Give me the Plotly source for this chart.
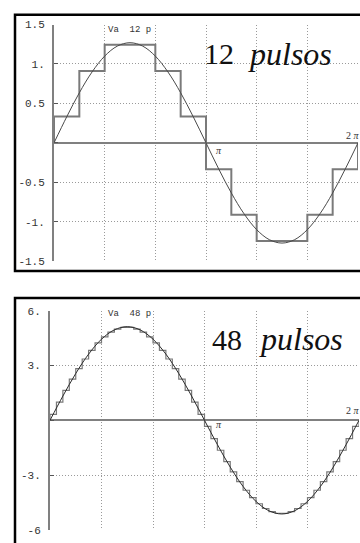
import plotly.graph_objects as go

# ---------------- data ----------------
# angle positions in degrees (0 .. 360 = 0 .. 2*pi)
sine_angles = [0, 15, 30, 45, 60, 75, 90, 105, 120, 135, 150, 165, 180,
               195, 210, 225, 240, 255, 270, 285, 300, 315, 330, 345, 360]

# 12-pulse panel
sine_12 = [0, 0.329, 0.635, 0.898, 1.100, 1.227, 1.270, 1.227, 1.100, 0.898, 0.635, 0.329, 0,
           -0.329, -0.635, -0.898, -1.100, -1.227, -1.270, -1.227, -1.100, -0.898, -0.635, -0.329, 0]
step_edges_12 = [0, 30, 60, 90, 120, 150, 180, 210, 240, 270, 300, 330, 360]
step_levels_12 = [0.333, 0.911, 1.244, 1.244, 0.911, 0.333,
                  -0.333, -0.911, -1.244, -1.244, -0.911, -0.333]
yticks_12 = [-1.5, -1.0, -0.5, 0, 0.5, 1.0, 1.5]
yticktext_12 = ["-1.5", "-1.", "-0.5", "", "0.5", "1.", "1.5"]

# 48-pulse panel
sine_48 = [0, 1.328, 2.565, 3.627, 4.443, 4.955, 5.130, 4.955, 4.443, 3.627, 2.565, 1.328, 0,
           -1.328, -2.565, -3.627, -4.443, -4.955, -5.130, -4.955, -4.443, -3.627, -2.565, -1.328, 0]
step_edges_48 = [0, 7.5, 15, 22.5, 30, 37.5, 45, 52.5, 60, 67.5, 75, 82.5,
                 90, 97.5, 105, 112.5, 120, 127.5, 135, 142.5, 150, 157.5, 165, 172.5,
                 180, 187.5, 195, 202.5, 210, 217.5, 225, 232.5, 240, 247.5, 255, 262.5,
                 270, 277.5, 285, 292.5, 300, 307.5, 315, 322.5, 330, 337.5, 345, 352.5, 360]
step_levels_48 = [0.33, 1.00, 1.64, 2.26, 2.83, 3.36, 3.83, 4.24, 4.57, 4.83, 5.00, 5.09,
                  5.09, 5.00, 4.83, 4.57, 4.24, 3.83, 3.36, 2.83, 2.26, 1.64, 1.00, 0.33,
                  -0.33, -1.00, -1.64, -2.26, -2.83, -3.36, -3.83, -4.24, -4.57, -4.83, -5.00, -5.09,
                  -5.09, -5.00, -4.83, -4.57, -4.24, -3.83, -3.36, -2.83, -2.26, -1.64, -1.00, -0.33]
yticks_48 = [-6, -3, 0, 3, 6]
yticktext_48 = ["-6", "-3.", "", "3.", "6."]

grid_angles = [60, 120, 180, 240, 300]

# ---------------- helpers ----------------
W, H = 360, 543


def fx(p):
    return p / W


def fy(p):
    return 1 - p / H


def stair(edges, levels):
    xs = [edges[0]] + list(edges) + [edges[-1]]
    ys = [0] + list(levels) + [levels[-1], 0]
    return xs, ys


GRID = "#9a9a9a"
AXIS = "#808080"
MONO = "Liberation Mono"
SERIF = "Liberation Serif"

fig = go.Figure()

# top panel
sx, sy = stair(step_edges_12, step_levels_12)
fig.add_trace(go.Scatter(x=sx, y=sy, mode="lines", line=dict(color="#7a7a7a", width=2, shape="hv"),
                         xaxis="x", yaxis="y", hoverinfo="skip"))
fig.add_trace(go.Scatter(x=sine_angles, y=sine_12, mode="lines",
                         line=dict(color="#4a4a4a", width=1, shape="spline"),
                         xaxis="x", yaxis="y", hoverinfo="skip"))

# bottom panel
sx2, sy2 = stair(step_edges_48, step_levels_48)
fig.add_trace(go.Scatter(x=sx2, y=sy2, mode="lines", line=dict(color="#7a7a7a", width=1.2, shape="hv"),
                         xaxis="x2", yaxis="y2", hoverinfo="skip"))
fig.add_trace(go.Scatter(x=sine_angles, y=sine_48, mode="lines",
                         line=dict(color="#2a2a2a", width=1, shape="spline"),
                         xaxis="x2", yaxis="y2", hoverinfo="skip"))


def xax(domain, anchor):
    return dict(domain=domain, range=[0, 360], anchor=anchor, showgrid=True, gridcolor=GRID,
                gridwidth=1, griddash="1px,2px", tickvals=grid_angles, showticklabels=False,
                ticks="", zeroline=False, showline=False, fixedrange=True)


def yax(domain, anchor, rng, tv, tt):
    return dict(domain=domain, range=rng, anchor=anchor, showgrid=True, gridcolor=GRID,
                gridwidth=1, griddash="1px,2px", tickvals=tv, ticktext=tt,
                ticks="inside", ticklen=4, tickwidth=1, tickcolor="#555555",
                tickfont=dict(family=MONO, size=11, color="#333333"),
                ticklabelstandoff=5,
                showline=True, linecolor=AXIS, linewidth=2,
                zeroline=True, zerolinecolor=AXIS, zerolinewidth=2, fixedrange=True)


fig.update_layout(
    width=W, height=H,
    margin=dict(l=0, r=0, t=0, b=0),
    paper_bgcolor="white", plot_bgcolor="white",
    showlegend=False,
    xaxis=xax([fx(54), fx(358)], "y"),
    yaxis=yax([fy(262), fy(20)], "x", [-1.5, 1.5], yticks_12, yticktext_12),
    xaxis2=xax([fx(50), fx(359)], "y2"),
    yaxis2=yax([fy(536.7), fy(312.7)], "x2", [-6, 6], yticks_48, yticktext_48),
)

annotations = [
    # top panel
    dict(text="Va  12 p", x=fx(106), y=fy(26), xanchor="left", yanchor="middle",
         font=dict(family=MONO, size=9, color="#333333")),
    dict(text="12", x=fx(202), y=fy(50), xanchor="left", yanchor="middle",
         font=dict(family=SERIF, size=30, color="#111111")),
    dict(text="<i>pulsos</i>", x=fx(246), y=fy(50), xanchor="left", yanchor="middle",
         font=dict(family=SERIF, size=32, color="#111111")),
    dict(text="<i>π</i>", x=fx(219), y=fy(149), xanchor="center", yanchor="middle",
         font=dict(family=SERIF, size=10, color="#333333")),
    dict(text="2 <i>π</i>", x=fx(344), y=fy(133), xanchor="left", yanchor="middle",
         font=dict(family=SERIF, size=10, color="#333333")),
    # bottom panel
    dict(text="Va  48 p", x=fx(106), y=fy(316), xanchor="left", yanchor="middle",
         font=dict(family=MONO, size=9, color="#333333")),
    dict(text="48", x=fx(210), y=fy(342), xanchor="left", yanchor="middle",
         font=dict(family=SERIF, size=30, color="#111111")),
    dict(text="<i>pulsos</i>", x=fx(257), y=fy(342), xanchor="left", yanchor="middle",
         font=dict(family=SERIF, size=32, color="#111111")),
    dict(text="<i>π</i>", x=fx(219), y=fy(429), xanchor="center", yanchor="middle",
         font=dict(family=SERIF, size=10, color="#333333")),
    dict(text="2 <i>π</i>", x=fx(344), y=fy(415), xanchor="left", yanchor="middle",
         font=dict(family=SERIF, size=10, color="#333333")),
]
for a in annotations:
    a.update(xref="paper", yref="paper", showarrow=False)
fig.update_layout(annotations=annotations)

# panel frames (right/bottom edges fall outside the picture)
fig.update_layout(shapes=[
    dict(type="rect", xref="paper", yref="paper", x0=fx(15), x1=fx(372), y0=fy(272), y1=fy(10),
         line=dict(color="black", width=2.5), layer="above"),
    dict(type="rect", xref="paper", yref="paper", x0=fx(15), x1=fx(372), y0=fy(560), y1=fy(299.5),
         line=dict(color="black", width=2.5), layer="above"),
])

fig.write_html("out.html", config={"displayModeBar": False, "staticPlot": True},
               post_script="document.body.style.margin='0';document.body.style.overflow='hidden';")
